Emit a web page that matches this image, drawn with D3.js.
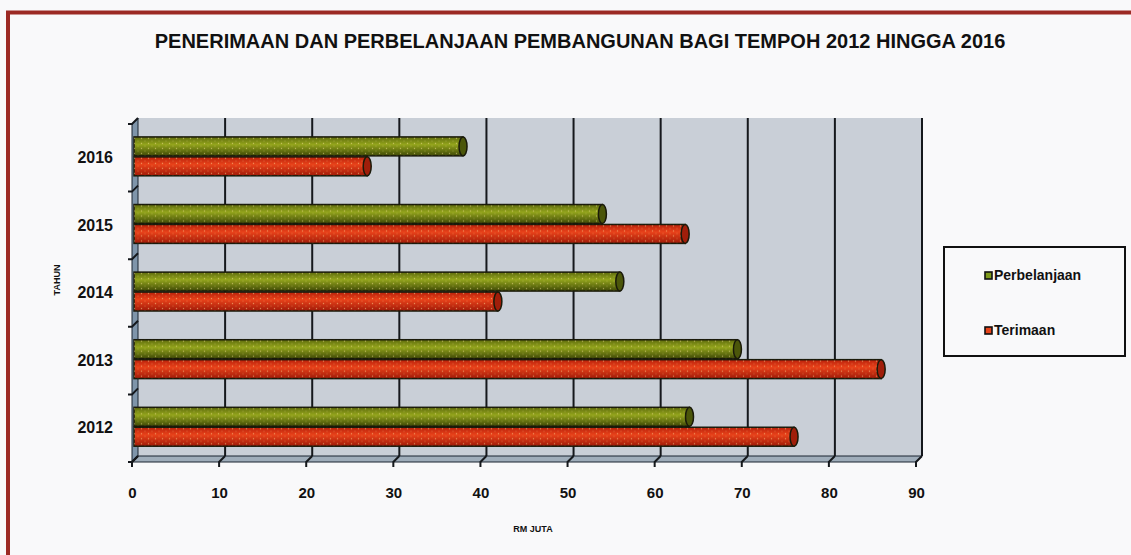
<!DOCTYPE html>
<html>
<head>
<meta charset="utf-8">
<script src="https://cdn.jsdelivr.net/npm/d3@7"></script>
<style>
  body { margin: 0; background: #f9f9fa; }
  svg { display: block; font-family: "Liberation Sans", Arial, sans-serif; }
</style>
</head>
<body>
<svg id="chart" width="1131" height="555"></svg>
<script>
// data
var years = ["2012", "2013", "2014", "2015", "2016"];
var perbelanjaan = [64, 69.5, 56, 54, 38];
var terimaan = [76, 86, 42, 63.5, 27];
var seriesNames = ["Perbelanjaan", "Terimaan"];
var xTicks = [0, 10, 20, 30, 40, 50, 60, 70, 80, 90];

var svg = d3.select("#chart");

// frame (only top / left edges visible in the scan)
svg.append("rect").attr("x", 0).attr("y", 0).attr("width", 1131).attr("height", 555).attr("fill", "#f9f9fa");
svg.append("path").attr("d", "M8,560 L8,12.5 L1140,12.5")
  .attr("fill", "none").attr("stroke", "#9c2a24").attr("stroke-width", 4);

svg.append("text")
  .attr("x", 580).attr("y", 48)
  .attr("text-anchor", "middle")
  .style("font-size", "20px").style("font-weight", "bold")
  .attr("fill", "#111")
  .text("PENERIMAAN DAN PERBELANJAAN PEMBANGUNAN BAGI TEMPOH 2012 HINGGA 2016");

var defs = svg.append("defs");
function cyl(id, c0, c1, c2) {
  var g = defs.append("linearGradient").attr("id", id).attr("x1", 0).attr("y1", 0).attr("x2", 0).attr("y2", 1);
  g.append("stop").attr("offset", "0%").attr("stop-color", c0);
  g.append("stop").attr("offset", "40%").attr("stop-color", c1);
  g.append("stop").attr("offset", "100%").attr("stop-color", c2);
}
cyl("gGreen", "#5d6a0c", "#93a41c", "#3e4806");
cyl("gRed", "#b8200a", "#e8421a", "#a01a08");
var dots = defs.append("pattern").attr("id", "dots").attr("width", 7).attr("height", 5)
  .attr("patternUnits", "userSpaceOnUse");
dots.append("circle").attr("cx", 1.5).attr("cy", 1.5).attr("r", 0.7).attr("fill", "#ffe9a0").attr("opacity", 0.5);
dots.append("circle").attr("cx", 5).attr("cy", 4).attr("r", 0.6).attr("fill", "#ffe9a0").attr("opacity", 0.35);

var depth = 6;
var x = d3.scaleLinear().domain([0, 90]).range([132, 916]);
var y = d3.scaleBand().domain(years.slice().reverse()).range([124, 462]);
var ySub = d3.scaleBand().domain(seriesNames).range([0, y.bandwidth()])
  .paddingOuter(0.72).paddingInner(0.05).align(0.45);

var yTop = y.range()[0], yBot = y.range()[1];

// back wall, side wall and floor
svg.append("rect")
  .attr("x", x(0) + depth).attr("y", yTop - depth)
  .attr("width", x(90) - x(0)).attr("height", yBot - yTop)
  .attr("fill", "#c9cfd7");
svg.append("polygon")
  .attr("points", [[x(0), yTop], [x(0) + depth, yTop - depth], [x(0) + depth, yBot - depth], [x(0), yBot]].join(" "))
  .attr("fill", "#7f95aa").attr("stroke", "#1b2430").attr("stroke-width", 1);
svg.append("polygon")
  .attr("points", [[x(0), yBot], [x(0) + depth, yBot - depth], [x(90) + depth, yBot - depth], [x(90), yBot]].join(" "))
  .attr("fill", "#9fadba").attr("stroke", "#1b2430").attr("stroke-width", 1);

// gridlines on back wall
svg.append("g").selectAll("line").data(xTicks.slice(1)).join("line")
  .attr("x1", function(d) { return x(d) + depth; }).attr("x2", function(d) { return x(d) + depth; })
  .attr("y1", yTop - depth).attr("y2", yBot - depth)
  .attr("stroke", "#15181c").attr("stroke-width", 2);

// x axis ticks with the little diagonal into the floor
svg.append("g").selectAll("path").data(xTicks).join("path")
  .attr("d", function(d) { return "M" + (x(d) + depth) + "," + (yBot - depth) + " L" + x(d) + "," + yBot + " L" + x(d) + "," + (yBot + 5); })
  .attr("fill", "none").attr("stroke", "#15181c").attr("stroke-width", 2);
svg.append("g")
  .attr("transform", "translate(0," + yBot + ")")
  .call(d3.axisBottom(x).tickValues(xTicks).tickSize(0).tickPadding(25))
  .call(function(g) { g.select(".domain").remove(); })
  .selectAll("text")
  .style("font-size", "15px").style("font-weight", "bold").attr("fill", "#111");

// y axis
var yTickPos = years.map(function(d) { return y(d); }).concat([yBot]);
svg.append("g").selectAll("path").data(yTickPos).join("path")
  .attr("d", function(d) { return "M" + (x(0) - 4) + "," + d + " L" + x(0) + "," + d + " L" + (x(0) + depth) + "," + (d - depth); })
  .attr("fill", "none").attr("stroke", "#15181c").attr("stroke-width", 2);
svg.append("g")
  .attr("transform", "translate(" + (x(0) - 4) + ",0)")
  .call(d3.axisLeft(y).tickSize(0).tickPadding(15))
  .call(function(g) { g.select(".domain").remove(); })
  .selectAll("text")
  .style("font-size", "16px").style("font-weight", "bold").attr("fill", "#111");

// cylinders
var rows = [];
years.forEach(function(yr, i) {
  rows.push({ year: yr, key: "Perbelanjaan", value: perbelanjaan[i], fill: "url(#gGreen)", cap: "#4b560a" });
  rows.push({ year: yr, key: "Terimaan", value: terimaan[i], fill: "url(#gRed)", cap: "#a01e0a" });
});
var bar = svg.append("g").selectAll("g").data(rows).join("g")
  .attr("transform", function(d) { return "translate(0," + (y(d.year) + ySub(d.key)) + ")"; });
var bh = ySub.bandwidth();
bar.append("rect")
  .attr("x", x(0) + 2).attr("y", 0)
  .attr("width", function(d) { return x(d.value) - x(0) - 2; }).attr("height", bh)
  .attr("fill", function(d) { return d.fill; })
  .attr("stroke", "#1a1a0a").attr("stroke-width", 1.5);
bar.append("rect")
  .attr("x", x(0) + 2).attr("y", 0)
  .attr("width", function(d) { return x(d.value) - x(0) - 2; }).attr("height", bh)
  .attr("fill", "url(#dots)");
bar.append("ellipse")
  .attr("cx", function(d) { return x(d.value); }).attr("cy", bh / 2)
  .attr("rx", 4).attr("ry", bh / 2)
  .attr("fill", function(d) { return d.cap; })
  .attr("stroke", "#1a1a0a").attr("stroke-width", 1.5);

// axis titles
svg.append("text").attr("x", 533).attr("y", 532).attr("text-anchor", "middle")
  .style("font-size", "9px").style("font-weight", "bold").attr("fill", "#111").text("RM JUTA");
svg.append("text").attr("transform", "translate(60,280) rotate(-90)").attr("text-anchor", "middle")
  .style("font-size", "9px").style("font-weight", "bold").attr("fill", "#111").text("TAHUN");

// legend
var lg = svg.append("g").attr("transform", "translate(944,247)");
lg.append("rect").attr("width", 181).attr("height", 109)
  .attr("fill", "#f9f9fa").attr("stroke", "#111").attr("stroke-width", 2);
var items = lg.selectAll("g").data([
  { name: seriesNames[0], color: "#7e9a1a" },
  { name: seriesNames[1], color: "#e8441a" }
]).join("g").attr("transform", function(d, i) { return "translate(41," + (25 + i * 55) + ")"; });
items.append("rect").attr("width", 7).attr("height", 7).attr("x", 0).attr("y", 0)
  .attr("fill", function(d) { return d.color; }).attr("stroke", "#111").attr("stroke-width", 1.6);
items.append("text").attr("x", 9).attr("y", 8)
  .style("font-size", "14px").style("font-weight", "bold").attr("fill", "#111")
  .text(function(d) { return d.name; });
</script>
</body>
</html>
